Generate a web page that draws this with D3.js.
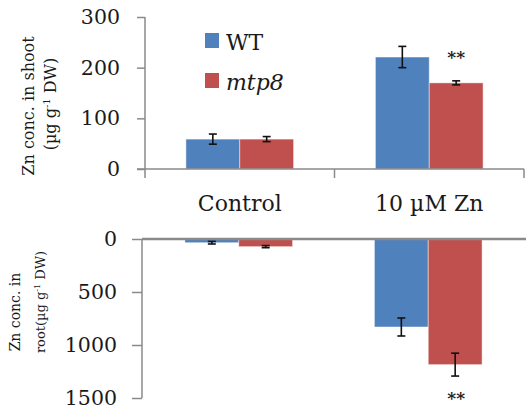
<!DOCTYPE html>
<html>
<head>
<meta charset="utf-8">
<script src="https://cdn.jsdelivr.net/npm/d3@7"></script>
<style>
  html, body { margin: 0; padding: 0; background: #fff; }
  svg { display: block; }
  svg text { font-family: "DejaVu Serif", "Liberation Serif", serif !important; }
</style>
</head>
<body>
<svg id="chart" width="526" height="409"></svg>
<script>
const categories = ["Control", "10 µM Zn"];
const seriesNames = ["WT", "mtp8"];
const seriesColors = ["#4F81BD", "#C0504D"];

const shootWT = [59, 221];
const shootWTErr = [10, 21];
const shootMtp8 = [59, 170];
const shootMtp8Err = [5, 4];

const rootWT = [35, 830];
const rootWTErr = [12, 85];
const rootMtp8 = [72, 1185];
const rootMtp8Err = [10, 108];

const shootTicks = [0, 100, 200, 300];
const rootTicks = [0, 500, 1000, 1500];

const svg = d3.select("#chart");
const axisColor = "#8a8a8a";
const FONT = "DejaVu Serif";

const x0 = d3.scaleBand().domain(categories).range([145, 524]).padding(0);
const x1 = d3.scaleBand().domain(seriesNames).range([0, x0.bandwidth()]).paddingInner(0).paddingOuter(0.76);

function buildRows(a, aErr, b, bErr) {
  const rows = [];
  categories.forEach((c, i) => {
    rows.push({cat: c, s: "WT", v: a[i], e: aErr[i], color: seriesColors[0]});
    rows.push({cat: c, s: "mtp8", v: b[i], e: bErr[i], color: seriesColors[1]});
  });
  return rows;
}

// ---------- TOP (shoot) ----------
const yTop = d3.scaleLinear().domain([0, 300]).range([169, 17]);
const gTop = svg.append("g");

const topRows = buildRows(shootWT, shootWTErr, shootMtp8, shootMtp8Err);
gTop.selectAll("rect.bar").data(topRows).join("rect")
  .attr("class", "bar")
  .attr("x", d => x0(d.cat) + x1(d.s))
  .attr("width", x1.bandwidth())
  .attr("y", d => yTop(d.v))
  .attr("height", d => yTop(0) - yTop(d.v))
  .attr("fill", d => d.color)
  .attr("stroke", "rgba(255,255,255,0.45)")
  .attr("stroke-width", 1);

const yAxisTop = d3.axisLeft(yTop).tickValues(shootTicks).tickFormat(d3.format("d")).tickSize(8).tickPadding(17);
const gyt = gTop.append("g").attr("transform", "translate(145,0)").call(yAxisTop)
  .attr("font-family", FONT);
gyt.select(".domain").attr("stroke", axisColor).attr("stroke-width", 1.5)
   .attr("d", `M0,${yTop(300)}V${yTop(0) + 9}`);
gyt.selectAll(".tick line").attr("stroke", axisColor).attr("stroke-width", 1.5);
gyt.selectAll(".tick text").attr("font-size", 20.5).attr("fill", "#1a1a1a").attr("font-family", FONT);

gTop.append("line").attr("x1", 137).attr("x2", 524).attr("y1", yTop(0)).attr("y2", yTop(0))
  .attr("stroke", axisColor).attr("stroke-width", 1.5);
const dividers = categories.map(c => x0(c) + x0.bandwidth());
gTop.selectAll("line.div").data(dividers).join("line").attr("class", "div")
  .attr("x1", d => d).attr("x2", d => d).attr("y1", yTop(0)).attr("y2", yTop(0) + 9)
  .attr("stroke", axisColor).attr("stroke-width", 1.5);

function errorBars(g, rows, y, shift) {
  const eg = g.append("g").attr("stroke", "#111").attr("stroke-width", 1.6);
  rows.forEach(d => {
    const cx = x0(d.cat) + x1(d.s) + x1.bandwidth() / 2 + shift;
    const y1 = y(Math.max(0, d.v - d.e)), y2 = y(d.v + d.e);
    eg.append("line").attr("x1", cx).attr("x2", cx).attr("y1", y1).attr("y2", y2);
    eg.append("line").attr("x1", cx - 4).attr("x2", cx + 4).attr("y1", y1).attr("y2", y1);
    eg.append("line").attr("x1", cx - 4).attr("x2", cx + 4).attr("y1", y2).attr("y2", y2);
  });
}
errorBars(gTop, topRows, yTop, 0);

gTop.selectAll("text.cat").data(categories).join("text").attr("class", "cat")
  .attr("x", d => x0(d) + x0.bandwidth() / 2)
  .attr("y", 211)
  .attr("text-anchor", "middle")
  .attr("font-family", FONT)
  .attr("font-size", 22)
  .attr("fill", "#1a1a1a")
  .text(d => d);

const sigX = x0(categories[1]) + x1("mtp8") + x1.bandwidth() / 2;
gTop.append("text").attr("x", sigX).attr("y", yTop(shootMtp8[1] + shootMtp8Err[1]) - 18)
  .attr("text-anchor", "middle").attr("font-family", FONT).attr("font-size", 17).attr("font-weight", "bold")
  .attr("fill", "#222").text("**");

const legend = gTop.append("g");
seriesNames.forEach((s, i) => {
  const ly = 33 + i * 40;
  legend.append("rect").attr("x", 205).attr("y", ly).attr("width", 14).attr("height", 15).attr("fill", seriesColors[i]);
  legend.append("text").attr("x", 226).attr("y", ly + 17).attr("font-family", FONT).attr("font-size", 22)
    .attr("font-style", i === 1 ? "italic" : "normal").attr("fill", "#1a1a1a").text(s);
});

gTop.append("text").attr("transform", "translate(34,106) rotate(-90)")
  .attr("text-anchor", "middle").attr("font-family", FONT).attr("font-size", 16).attr("fill", "#1a1a1a")
  .text("Zn conc. in shoot");
const t2 = gTop.append("text").attr("transform", "translate(56,104) rotate(-90)")
  .attr("text-anchor", "middle").attr("font-family", FONT).attr("font-size", 16).attr("fill", "#1a1a1a");
t2.append("tspan").text("(µg g");
t2.append("tspan").attr("font-size", 10).attr("dy", -6).text("-1");
t2.append("tspan").attr("dy", 6).text(" DW)");

// ---------- BOTTOM (root) ----------
const yBot = d3.scaleLinear().domain([0, 1500]).range([239, 398]);
const gBot = svg.append("g");
const botRows = buildRows(rootWT, rootWTErr, rootMtp8, rootMtp8Err);

gBot.selectAll("rect.bar").data(botRows).join("rect")
  .attr("class", "bar")
  .attr("x", d => x0(d.cat) + x1(d.s) - 1)
  .attr("width", x1.bandwidth())
  .attr("y", yBot(0))
  .attr("height", d => yBot(d.v) - yBot(0))
  .attr("fill", d => d.color)
  .attr("stroke", "rgba(255,255,255,0.45)")
  .attr("stroke-width", 1);

const yAxisBot = d3.axisLeft(yBot).tickValues(rootTicks).tickFormat(d3.format("d")).tickSize(10).tickPadding(15);
const gyb = gBot.append("g").attr("transform", "translate(142,0)").call(yAxisBot)
  .attr("font-family", FONT);
gyb.select(".domain").attr("stroke", axisColor).attr("stroke-width", 1.5)
   .attr("d", `M0,${yBot(0)}V${yBot(1500)}`);
gyb.selectAll(".tick line").attr("stroke", axisColor).attr("stroke-width", 1.5);
gyb.selectAll(".tick text").attr("font-size", 20.5).attr("fill", "#1a1a1a").attr("font-family", FONT);

gBot.append("line").attr("x1", 142).attr("x2", 526).attr("y1", yBot(0)).attr("y2", yBot(0))
  .attr("stroke", axisColor).attr("stroke-width", 2.5);

errorBars(gBot, botRows, yBot, -1);

gBot.append("text").attr("x", sigX).attr("y", yBot(rootMtp8[1] + rootMtp8Err[1]) + 28)
  .attr("text-anchor", "middle").attr("font-family", FONT).attr("font-size", 17).attr("font-weight", "bold")
  .attr("fill", "#222").text("**");

gBot.append("text").attr("transform", "translate(20,312) rotate(-90)")
  .attr("text-anchor", "middle").attr("font-family", FONT).attr("font-size", 14).attr("fill", "#1a1a1a").text("Zn conc. in");
const b2 = gBot.append("text").attr("transform", "translate(45,302) rotate(-90)")
  .attr("text-anchor", "middle").attr("font-family", FONT).attr("font-size", 13).attr("fill", "#1a1a1a");
b2.append("tspan").text("root(µg g");
b2.append("tspan").attr("font-size", 8).attr("dy", -5).text("-1");
b2.append("tspan").attr("dy", 5).text(" DW)");
</script>
</body>
</html>
